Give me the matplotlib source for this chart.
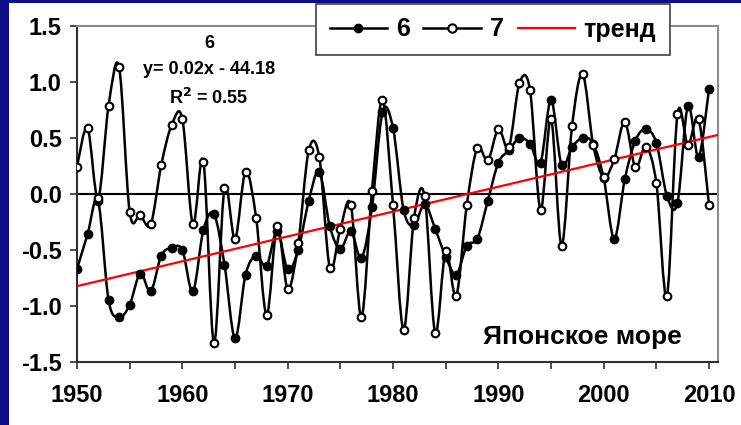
import matplotlib
matplotlib.use("Agg")
import matplotlib.pyplot as plt
import numpy as np
from matplotlib.path import Path
from matplotlib.patches import PathPatch, Rectangle
from matplotlib.lines import Line2D

plt.rcParams['font.family'] = ['Liberation Sans', 'DejaVu Sans']
plt.rcParams['font.weight'] = 'bold'

# data
years = np.arange(1950, 2011)
s6 = [-0.67, -0.36, -0.06, -0.95, -1.10, -0.99, -0.71, -0.87, -0.55, -0.48,
      -0.50, -0.87, -0.32, -0.18, -0.63, -1.29, -0.72, -0.55, -0.64, -0.33,
      -0.67, -0.50, -0.06, 0.20, -0.29, -0.49, -0.33, -0.57, -0.12, 0.73,
      0.59, -0.14, -0.28, -0.09, -0.31, -0.56, -0.72, -0.46, -0.40, -0.06,
      0.28, 0.39, 0.50, 0.45, 0.28, 0.84, 0.26, 0.42, 0.50, 0.45,
      0.14, -0.40, 0.13, 0.475, 0.58, 0.455, -0.015, -0.08, 0.79, 0.33,
      0.94]
s7 = [0.245, 0.59, -0.04, 0.79, 1.13, -0.16, -0.19, -0.27, 0.26, 0.62,
      0.67, -0.27, 0.29, -1.33, 0.05, -0.40, 0.20, -0.21, -1.08, -0.29,
      -0.845, -0.44, 0.39, 0.33, -0.66, -0.31, -0.10, -1.10, 0.03, 0.84,
      -0.10, -1.21, -0.21, -0.02, -1.24, -0.51, -0.91, -0.10, 0.41, 0.30,
      0.58, 0.42, 0.99, 0.93, -0.14, 0.67, -0.46, 0.61, 1.07, 0.44,
      0.15, 0.31, 0.645, 0.24, 0.42, 0.095, -0.91, 0.71, 0.44, 0.67,
      -0.10]
names = ['6', '7', 'тренд']
fit_text = ['6', 'y= 0.02x - 44.18', 'R$^2$ = 0.55']
region = 'Японское море'


def smooth_path(x, y):
    # Excel-like smoothed line: Catmull-Rom as cubic Bezier segments
    p = np.column_stack([x, y]).astype(float)
    ext = np.vstack([p[0], p, p[-1]])
    verts = [p[0]]
    codes = [Path.MOVETO]
    for i in range(len(p) - 1):
        p0, p1, p2, p3 = ext[i], ext[i + 1], ext[i + 2], ext[i + 3]
        verts += [p1 + (p2 - p0) / 6, p2 - (p3 - p1) / 6, p2]
        codes += [Path.CURVE4] * 3
    return Path(verts, codes)


fig = plt.figure(figsize=(7.41, 4.25), dpi=100)
fig.patch.set_facecolor('#0d0d88')
fig.patches.append(Rectangle((9 / 741, 0), 1, 1 - 3 / 425, transform=fig.transFigure,
                             facecolor='white', edgecolor='none', zorder=-5))

ax = fig.add_axes([77 / 741, 1 - 362 / 425, (718 - 77) / 741, (362 - 26) / 425])
ax.set_facecolor('white')

for s, fill in [(s6, 'black'), (s7, 'white')]:
    ax.add_patch(PathPatch(smooth_path(years, s), facecolor='none', edgecolor='black',
                           lw=1.8, zorder=3))
    ax.plot(years, s, 'o', ms=5.5, mfc=fill, mec='black', mew=1.5, zorder=5)

k, b = np.polyfit(years, s6, 1)
tx = np.array([1950, 2010.85])
ax.plot(tx, k * tx + b, color='#ff0000', lw=1.6, zorder=4)

ax.axhline(0, color='black', lw=1.5, zorder=2)

ax.set_xlim(1950, 2010.85)
ax.set_ylim(-1.5, 1.5)
ax.set_yticks(np.arange(-1.5, 1.51, 0.5))
ax.set_yticklabels([f'{v:.1f}' for v in np.arange(-1.5, 1.51, 0.5)])
ax.set_xticks(np.arange(1950, 2011, 5))
ax.set_xticklabels([str(v) if v % 10 == 0 else '' for v in range(1950, 2011, 5)])
ax.tick_params(axis='y', length=5, width=1.2, pad=6, labelsize=17, colors='#303030',
               labelcolor='black')
ax.tick_params(axis='x', length=5, width=1.2, pad=11, labelsize=17, colors='#303030',
               labelcolor='black')
for lab in ax.get_xticklabels() + ax.get_yticklabels():
    lab.set_fontweight('bold')

for side in ['left', 'bottom']:
    ax.spines[side].set_color('#303030')
    ax.spines[side].set_linewidth(1.5)
for side in ['top', 'right']:
    ax.spines[side].set_color('#8c8c8c')
    ax.spines[side].set_linewidth(1.5)

for t, yy in zip(fit_text, [0.949, 0.872, 0.786]):
    ax.text(0.206, yy, t, transform=ax.transAxes, ha='center', va='center',
            fontsize=13, fontweight='bold')

ax.text(0.789, 0.074, region, transform=ax.transAxes, ha='center', va='center',
        fontsize=19, fontweight='bold')

handles = [Line2D([], [], color='black', lw=1.8, marker='o', ms=6, mfc='black', mec='black'),
           Line2D([], [], color='black', lw=1.8, marker='o', ms=6, mfc='white', mec='black', mew=1.5),
           Line2D([], [], color='#ff0000', lw=1.6)]
leg = fig.legend(handles, names, loc='center', bbox_to_anchor=(493 / 741, 1 - 29.5 / 425),
                 ncol=3, frameon=True, fancybox=False, framealpha=1,
                 handlelength=2.3, handletextpad=0.35, columnspacing=0.55,
                 borderpad=0.55, prop={'weight': 'bold', 'size': 18})
leg.get_frame().set_edgecolor('#404040')
leg.get_frame().set_linewidth(1.2)

fig.savefig('out.png', dpi=100, facecolor=fig.get_facecolor())
